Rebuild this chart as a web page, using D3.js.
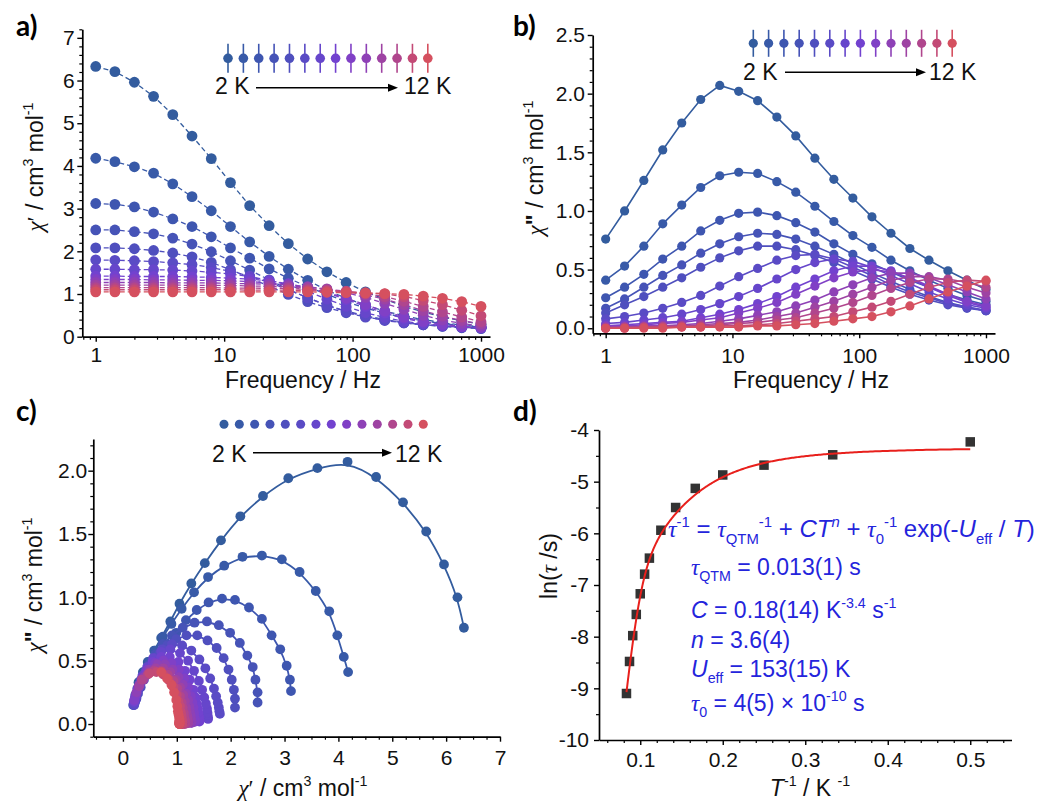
<!DOCTYPE html>
<html>
<head>
<meta charset="utf-8">
<script src="https://cdn.jsdelivr.net/npm/d3@7"></script>
<style>
  body { margin: 0; background: #fff; }
  svg { display: block; }
  text { white-space: pre; }
</style>
</head>
<body>
<svg id="fig" width="1049" height="805"></svg>
<script>
// ---- AC susceptibility data: 21 frequencies, 14 temperatures ----
const freq = [1, 1.41, 2, 2.82, 3.98, 5.62, 7.94, 11.2, 15.8, 22.4, 31.6, 44.7, 63.1, 89.1, 126, 178, 251, 355, 501, 708, 1000];
const temps = [2, 3, 4, 5, 6, 7, 8, 9, 9.5, 10, 10.5, 11, 11.5, 12];

// in-phase susceptibility chi' (cm3 mol-1), one row per temperature
const chiPrime = [
  [6.33, 6.21, 5.96, 5.63, 5.20, 4.70, 4.17, 3.61, 3.07, 2.60, 2.18, 1.82, 1.52, 1.27, 1.05, 0.88, 0.71, 0.58, 0.46, 0.37, 0.29],
  [4.18, 4.10, 3.98, 3.83, 3.58, 3.28, 2.95, 2.58, 2.22, 1.88, 1.58, 1.32, 1.09, 0.90, 0.74, 0.60, 0.49, 0.40, 0.33, 0.27, 0.23],
  [3.12, 3.10, 3.04, 2.92, 2.76, 2.58, 2.34, 2.08, 1.84, 1.59, 1.37, 1.17, 0.99, 0.82, 0.67, 0.55, 0.45, 0.37, 0.31, 0.26, 0.22],
  [2.50, 2.50, 2.46, 2.41, 2.31, 2.17, 1.99, 1.78, 1.56, 1.33, 1.11, 0.91, 0.74, 0.60, 0.49, 0.40, 0.33, 0.28, 0.24, 0.21, 0.19],
  [2.08, 2.08, 2.06, 2.02, 1.96, 1.87, 1.74, 1.57, 1.38, 1.18, 0.99, 0.82, 0.68, 0.56, 0.46, 0.39, 0.33, 0.28, 0.25, 0.22, 0.20],
  [1.80, 1.79, 1.78, 1.76, 1.73, 1.69, 1.62, 1.53, 1.42, 1.27, 1.10, 0.91, 0.73, 0.59, 0.47, 0.38, 0.32, 0.28, 0.25, 0.23, 0.21],
  [1.58, 1.58, 1.57, 1.57, 1.56, 1.54, 1.51, 1.47, 1.41, 1.32, 1.21, 1.06, 0.88, 0.71, 0.56, 0.45, 0.36, 0.30, 0.26, 0.23, 0.21],
  [1.42, 1.42, 1.41, 1.41, 1.41, 1.40, 1.39, 1.37, 1.35, 1.31, 1.24, 1.15, 1.03, 0.87, 0.71, 0.55, 0.43, 0.34, 0.27, 0.23, 0.21],
  [1.34, 1.34, 1.34, 1.33, 1.33, 1.32, 1.32, 1.31, 1.29, 1.26, 1.21, 1.14, 1.04, 0.90, 0.75, 0.60, 0.46, 0.36, 0.29, 0.24, 0.21],
  [1.27, 1.27, 1.27, 1.27, 1.26, 1.26, 1.26, 1.25, 1.24, 1.23, 1.21, 1.17, 1.11, 1.03, 0.92, 0.78, 0.64, 0.50, 0.39, 0.31, 0.25],
  [1.21, 1.21, 1.21, 1.21, 1.21, 1.20, 1.20, 1.20, 1.19, 1.18, 1.17, 1.15, 1.12, 1.06, 0.98, 0.88, 0.75, 0.61, 0.48, 0.38, 0.30],
  [1.15, 1.15, 1.15, 1.15, 1.15, 1.15, 1.15, 1.14, 1.14, 1.13, 1.13, 1.11, 1.09, 1.06, 1.01, 0.94, 0.83, 0.71, 0.58, 0.46, 0.35],
  [1.10, 1.10, 1.10, 1.10, 1.10, 1.10, 1.10, 1.10, 1.09, 1.09, 1.09, 1.08, 1.07, 1.06, 1.03, 1.00, 0.94, 0.85, 0.75, 0.62, 0.49],
  [1.05, 1.05, 1.05, 1.05, 1.05, 1.05, 1.05, 1.05, 1.05, 1.05, 1.05, 1.05, 1.04, 1.03, 1.02, 1.01, 0.99, 0.95, 0.90, 0.82, 0.71]
];

// out-of-phase susceptibility chi'' (cm3 mol-1), one row per temperature
const chiDouble = [
  [0.76, 1.00, 1.26, 1.52, 1.75, 1.95, 2.07, 2.02, 1.94, 1.80, 1.64, 1.45, 1.27, 1.11, 0.95, 0.81, 0.68, 0.58, 0.49, 0.41, 0.33],
  [0.41, 0.53, 0.70, 0.89, 1.05, 1.20, 1.30, 1.33, 1.32, 1.25, 1.16, 1.04, 0.91, 0.79, 0.69, 0.58, 0.49, 0.41, 0.34, 0.28, 0.23],
  [0.26, 0.35, 0.46, 0.59, 0.70, 0.83, 0.92, 0.98, 0.99, 0.96, 0.90, 0.82, 0.72, 0.63, 0.55, 0.48, 0.41, 0.35, 0.29, 0.24, 0.20],
  [0.17, 0.25, 0.35, 0.45, 0.54, 0.64, 0.72, 0.78, 0.81, 0.80, 0.76, 0.70, 0.63, 0.55, 0.47, 0.40, 0.33, 0.27, 0.22, 0.18, 0.15],
  [0.13, 0.20, 0.27, 0.35, 0.43, 0.52, 0.60, 0.66, 0.70, 0.70, 0.67, 0.62, 0.56, 0.49, 0.42, 0.35, 0.29, 0.24, 0.20, 0.17, 0.15],
  [0.08, 0.10, 0.13, 0.17, 0.22, 0.28, 0.36, 0.44, 0.51, 0.58, 0.62, 0.63, 0.59, 0.52, 0.45, 0.37, 0.31, 0.26, 0.21, 0.18, 0.15],
  [0.04, 0.05, 0.07, 0.09, 0.12, 0.16, 0.21, 0.27, 0.34, 0.42, 0.50, 0.56, 0.59, 0.57, 0.52, 0.45, 0.38, 0.31, 0.25, 0.20, 0.17],
  [0.02, 0.03, 0.04, 0.05, 0.06, 0.09, 0.12, 0.16, 0.21, 0.27, 0.35, 0.42, 0.49, 0.53, 0.53, 0.49, 0.42, 0.35, 0.28, 0.22, 0.18],
  [0.02, 0.02, 0.03, 0.04, 0.05, 0.07, 0.09, 0.13, 0.17, 0.22, 0.29, 0.36, 0.43, 0.48, 0.50, 0.48, 0.43, 0.36, 0.29, 0.23, 0.19],
  [0.01, 0.01, 0.02, 0.02, 0.03, 0.04, 0.06, 0.08, 0.11, 0.14, 0.19, 0.24, 0.31, 0.37, 0.43, 0.47, 0.47, 0.43, 0.37, 0.31, 0.25],
  [0.01, 0.01, 0.01, 0.02, 0.02, 0.03, 0.04, 0.05, 0.07, 0.10, 0.13, 0.18, 0.23, 0.29, 0.35, 0.41, 0.44, 0.44, 0.41, 0.35, 0.30],
  [0.00, 0.01, 0.01, 0.01, 0.02, 0.02, 0.03, 0.04, 0.05, 0.07, 0.09, 0.13, 0.17, 0.22, 0.28, 0.34, 0.39, 0.42, 0.42, 0.39, 0.35],
  [0.00, 0.00, 0.01, 0.01, 0.01, 0.01, 0.02, 0.02, 0.03, 0.04, 0.06, 0.08, 0.10, 0.14, 0.18, 0.23, 0.29, 0.35, 0.39, 0.41, 0.40],
  [0.00, 0.00, 0.00, 0.00, 0.01, 0.01, 0.01, 0.01, 0.02, 0.02, 0.03, 0.04, 0.06, 0.08, 0.10, 0.14, 0.19, 0.25, 0.31, 0.36, 0.41]
];

// Arrhenius plot data: 1/T (K-1) and ln(tau / s)
const invT  = [0.5, 0.3333, 0.25, 0.2, 0.1667, 0.1429, 0.125, 0.1111, 0.1053, 0.1, 0.0952, 0.0909, 0.0870, 0.0833];
const lnTau = [-4.23, -4.48, -4.68, -4.87, -5.13, -5.50, -5.94, -6.48, -6.79, -7.17, -7.57, -7.98, -8.48, -9.10];

// relaxation fit parameters
const tauQTM = 0.013;   // s
const ramanC = 0.18;    // K^-n s^-1
const ramanN = 3.6;
const Ueff   = 153;     // K
const tau0   = 4e-10;   // s
const fitTmin = 2, fitTmax = 12;

// tick values
const logMajor = [1, 10, 100, 1000];
const logMinor = [0.8, 0.9, 2, 3, 4, 5, 6, 7, 8, 9, 20, 30, 40, 50, 60, 70, 80, 90, 200, 300, 400, 500, 600, 700, 800, 900];
const aYMajor = [0, 1, 2, 3, 4, 5, 6, 7];
const bYMajor = [0, 0.5, 1.0, 1.5, 2.0, 2.5];
const cXMajor = [0, 1, 2, 3, 4, 5, 6, 7];
const cYMajor = [0, 0.5, 1.0, 1.5, 2.0];
const dXMajor = [0.1, 0.2, 0.3, 0.4, 0.5];
const dYMajor = [-4, -5, -6, -7, -8, -9, -10];

// temperature colour ramp, blue (2 K) through violet to red (12 K)
const colors = ["#335c9e", "#385aa8", "#3e56b0", "#4653b7", "#4f4fbe", "#5a4bc5", "#6646cb",
                "#7242cf", "#8040c6", "#8e41b6", "#9e43a3", "#b0468d", "#c34a76", "#d5505f"];

const SANS = "'Liberation Sans', Arial, Helvetica, sans-serif";
const SERIF = "'Liberation Serif', 'Times New Roman', serif";
const svg = d3.select("#fig");

// ---------- helpers ----------
function rangeStep(a, b, s) {
  const out = [];
  for (let v = a; v <= b + 1e-9; v += s) out.push(+v.toFixed(6));
  return out;
}

function rich(sel, x, y, parts, o) {
  const size = o.size;
  const t = sel.append("text")
    .attr("x", x).attr("y", y)
    .attr("font-family", SANS).attr("font-size", size)
    .attr("fill", o.fill || "#111")
    .attr("text-anchor", o.anchor || "start");
  if (o.rotate) t.attr("transform", `rotate(-90,${x},${y})`);
  let shift = 0;
  parts.forEach(p => {
    const ts = t.append("tspan").text(p.t);
    let target = 0, fs = size;
    if (p.sup) { target = -size * 0.42; fs = size * 0.62; }
    if (p.sub) { target = size * 0.28; fs = size * 0.62; }
    ts.attr("dy", (target - shift).toFixed(2)).attr("font-size", fs);
    shift = target;
    if (p.i) ts.attr("font-style", "italic");
    if (p.serif) ts.attr("font-family", SERIF);
    if (p.b) ts.attr("font-weight", "bold");
  });
  return t;
}

function axis(g, scale, orient, at, major, minor, fmt, pad) {
  const gen = (orient === "bottom" ? d3.axisBottom : d3.axisLeft)(scale)
    .tickValues(major).tickFormat(fmt).tickSize(5).tickSizeOuter(0).tickPadding(pad);
  const tr = orient === "bottom" ? `translate(0,${at})` : `translate(${at},0)`;
  const ax = g.append("g").attr("transform", tr).call(gen);
  ax.select(".domain").attr("stroke", "#000").attr("stroke-width", 1.7);
  ax.selectAll(".tick line").attr("stroke", "#000").attr("stroke-width", 1.4);
  ax.selectAll(".tick text").attr("font-family", SANS).attr("font-size", 21).attr("fill", "#111");
  const mgen = (orient === "bottom" ? d3.axisBottom : d3.axisLeft)(scale)
    .tickValues(minor).tickFormat("").tickSize(3).tickSizeOuter(0);
  const mg = g.append("g").attr("transform", tr).call(mgen);
  mg.select(".domain").remove();
  mg.selectAll(".tick line").attr("stroke", "#000").attr("stroke-width", 1.2);
}

function tempLegend(g, x0, dx, cy, r, stem, labY, lab2x, arrowX1, arrowX2, arrowY, lab12x) {
  temps.forEach((T, i) => {
    const cx = x0 + i * dx;
    if (stem) {
      g.append("line").attr("x1", cx).attr("x2", cx).attr("y1", cy - stem).attr("y2", cy + stem)
        .attr("stroke", colors[i]).attr("stroke-width", 1.6);
    }
    g.append("circle").attr("cx", cx).attr("cy", cy).attr("r", r).attr("fill", colors[i]);
  });
  g.append("text").attr("x", lab2x).attr("y", labY).attr("font-family", SANS).attr("font-size", 23)
    .attr("fill", "#111").text(temps[0] + " K");
  g.append("text").attr("x", lab12x).attr("y", labY).attr("font-family", SANS).attr("font-size", 23)
    .attr("fill", "#111").text(temps[temps.length - 1] + " K");
  g.append("line").attr("x1", arrowX1).attr("x2", arrowX2 - 8).attr("y1", arrowY).attr("y2", arrowY)
    .attr("stroke", "#000").attr("stroke-width", 1.6);
  g.append("path")
    .attr("d", `M${arrowX2},${arrowY} L${arrowX2 - 10},${arrowY - 4} L${arrowX2 - 10},${arrowY + 4} Z`)
    .attr("fill", "#000");
}

function panelLabel(x, y, s) {
  svg.append("text").attr("x", x).attr("y", y).attr("font-family", "Lato, 'Open Sans', sans-serif")
    .attr("font-weight", "bold").attr("font-size", 28).attr("fill", "#000").text(s);
}

const fmt1 = d3.format(".1f");
const fmtInt = d => String(d);

// ---------- panel a : chi' vs frequency ----------
{
  const g = svg.append("g");
  const x = d3.scaleLog().domain([0.786, 1175]).range([82.3, 490]);
  const y = d3.scaleLinear().domain([0, 7.2]).range([336.7, 29.3]);
  axis(g, x, "bottom", 336.7, logMajor, logMinor, fmtInt, 5.5);
  axis(g, y, "left", 82.3, aYMajor, rangeStep(0, 7.2, 0.2).filter(v => Math.abs(v - Math.round(v)) > 1e-6), fmtInt, 2.5);

  const line = d3.line().x((d, j) => x(freq[j])).y(d => y(d));
  temps.forEach((T, i) => {
    g.append("path").attr("d", line(chiPrime[i])).attr("fill", "none")
      .attr("stroke", colors[i]).attr("stroke-width", 1.3).attr("stroke-dasharray", "5,3");
    g.append("g").selectAll("circle").data(chiPrime[i]).join("circle")
      .attr("cx", (d, j) => x(freq[j])).attr("cy", d => y(d)).attr("r", 5.4).attr("fill", colors[i]);
  });

  tempLegend(g, 228, 15.37, 58.3, 4.8, 14.5, 94.3, 215, 256, 398, 87.7, 404);
  rich(g, 303, 388, [{ t: "Frequency / Hz" }], { size: 23, anchor: "middle" });
  rich(g, 43, 167, [{ t: "χ", serif: true, i: true }, { t: "′", serif: true }, { t: " / cm" }, { t: "3", sup: true },
    { t: " mol" }, { t: "-1", sup: true }], { size: 23, anchor: "middle", rotate: true });
  panelLabel(16, 36, "a)");
}

// ---------- panel b : chi'' vs frequency ----------
{
  const g = svg.append("g");
  const x = d3.scaleLog().domain([0.79, 1178]).range([592.7, 995]);
  const y = d3.scaleLinear().domain([-0.043, 2.5]).range([333.3, 35]);
  axis(g, x, "bottom", 333.3, logMajor, logMinor, fmtInt, 9.5);
  axis(g, y, "left", 592.7, bYMajor, rangeStep(0, 2.5, 0.1).filter(v => Math.abs(v * 2 - Math.round(v * 2)) > 1e-6), fmt1, 2.7);

  const line = d3.line().x((d, j) => x(freq[j])).y(d => y(d));
  temps.forEach((T, i) => {
    g.append("path").attr("d", line(chiDouble[i])).attr("fill", "none")
      .attr("stroke", colors[i]).attr("stroke-width", 1.6);
    g.append("g").selectAll("circle").data(chiDouble[i]).join("circle")
      .attr("cx", (d, j) => x(freq[j])).attr("cy", d => y(d)).attr("r", 4.6).attr("fill", colors[i]);
  });

  tempLegend(g, 753.3, 15.3, 43.3, 4.6, 13.5, 80, 743, 785, 926, 72.3, 929);
  rich(g, 811, 388, [{ t: "Frequency / Hz" }], { size: 23, anchor: "middle" });
  rich(g, 543, 168, [{ t: "χ", serif: true, i: true }, { t: "\"", b: true }, { t: " / cm" }, { t: "3", sup: true },
    { t: " mol" }, { t: "-1", sup: true }], { size: 23, anchor: "middle", rotate: true });
  panelLabel(513, 36, "b)");
}

// ---------- panel c : Cole-Cole plot ----------
{
  const g = svg.append("g");
  const x = d3.scaleLinear().domain([-0.55, 7]).range([93.3, 500]);
  const y = d3.scaleLinear().domain([-0.1, 2.25]).range([736.7, 439]);
  axis(g, x, "bottom", 736.7, cXMajor, rangeStep(-0.5, 7, 0.25).filter(v => Math.abs(v - Math.round(v)) > 1e-6), fmtInt, 8.5);
  axis(g, y, "left", 93.3, cYMajor, rangeStep(-0.1, 2.2, 0.1).filter(v => Math.abs(v * 2 - Math.round(v * 2)) > 1e-6), fmt1, 1);

  const curve = d3.line().x(d => x(d[0])).y(d => y(d[1])).curve(d3.curveBasis);
  temps.forEach((T, i) => {
    const pts = chiPrime[i].map((v, j) => [v, chiDouble[i][j]]);
    g.append("path").attr("d", curve(pts)).attr("fill", "none")
      .attr("stroke", colors[i]).attr("stroke-width", 1.8);
    g.append("g").selectAll("circle").data(pts).join("circle")
      .attr("cx", d => x(d[0])).attr("cy", d => y(d[1])).attr("r", 4.9).attr("fill", colors[i]);
  });

  tempLegend(g, 224, 15.33, 424.3, 4.5, 0, 461.7, 212, 253, 392, 452.7, 395);
  rich(g, 303, 796, [{ t: "χ", serif: true, i: true }, { t: "′", serif: true }, { t: " / cm" }, { t: "3", sup: true },
    { t: " mol" }, { t: "-1", sup: true }], { size: 23, anchor: "middle" });
  rich(g, 42, 585, [{ t: "χ", serif: true, i: true }, { t: "\"", b: true }, { t: " / cm" }, { t: "3", sup: true },
    { t: " mol" }, { t: "-1", sup: true }], { size: 23, anchor: "middle", rotate: true });
  panelLabel(16, 421, "c)");
}

// ---------- panel d : ln(tau) vs 1/T ----------
{
  const g = svg.append("g");
  const x = d3.scaleLinear().domain([0.05, 0.55]).range([599, 1011.5]);
  const y = d3.scaleLinear().domain([-10, -4]).range([740, 430]);
  axis(g, x, "bottom", 740, dXMajor, rangeStep(0.06, 0.54, 0.02).filter(v => Math.abs(v * 10 - Math.round(v * 10)) > 1e-6), fmt1, 7.5);
  axis(g, y, "left", 599, dYMajor, [-4.5, -5.5, -6.5, -7.5, -8.5, -9.5], fmtInt, 5);

  // fitted curve from tau^-1 = tauQTM^-1 + C T^n + tau0^-1 exp(-Ueff/T)
  const Ts = d3.range(fitTmin, fitTmax + 1e-9, 0.02);
  const fitPts = Ts.map(T => [1 / T, -Math.log(1 / tauQTM + ramanC * Math.pow(T, ramanN) + Math.exp(-Ueff / T) / tau0)]);

  const s = 9.5;
  g.append("g").selectAll("rect").data(invT).join("rect")
    .attr("x", (d) => x(d) - s / 2).attr("y", (d, i) => y(lnTau[i]) - s / 2)
    .attr("width", s).attr("height", s).attr("fill", "#333");
  g.append("path").attr("d", d3.line().x(d => x(d[0])).y(d => y(d[1]))(fitPts))
    .attr("fill", "none").attr("stroke", "#e8201c").attr("stroke-width", 2);

  rich(g, 810, 796, [{ t: "T", i: true }, { t: "-1", sup: true }, { t: " / K " }, { t: "-1", sup: true }],
    { size: 23, anchor: "middle" });
  rich(g, 557, 566, [{ t: "ln(" }, { t: "τ", serif: true, i: true }, { t: " /s)" }], { size: 23, anchor: "middle", rotate: true });

  const blue = "#2424dc";
  const ann = { size: 24, fill: blue };
  rich(g, 668, 537, [{ t: "τ", serif: true, i: true }, { t: "-1", sup: true }, { t: " = " },
    { t: "τ", serif: true, i: true }, { t: "QTM", sub: true }, { t: "-1", sup: true }, { t: " + " },
    { t: "CT", i: true }, { t: "n", sup: true, i: true }, { t: " + " },
    { t: "τ", serif: true, i: true }, { t: "0", sub: true }, { t: "-1", sup: true }, { t: " exp(-" },
    { t: "U", i: true }, { t: "eff", sub: true }, { t: " / " }, { t: "T", i: true }, { t: ")" }], ann);
  const annB = { size: 23, fill: blue };
  rich(g, 691, 575, [{ t: "τ", serif: true, i: true }, { t: "QTM", sub: true }, { t: " = 0.013(1) s" }], annB);
  rich(g, 691, 618, [{ t: "C", i: true }, { t: " = 0.18(14) K" }, { t: "-3.4", sup: true }, { t: " s" }, { t: "-1", sup: true }], annB);
  rich(g, 691, 648, [{ t: "n", i: true }, { t: " = 3.6(4)" }], annB);
  rich(g, 691, 677, [{ t: "U", i: true }, { t: "eff", sub: true }, { t: " = 153(15) K" }], annB);
  rich(g, 691, 711, [{ t: "τ", serif: true, i: true }, { t: "0", sub: true }, { t: " = 4(5) × 10" }, { t: "-10", sup: true }, { t: " s" }], annB);
  panelLabel(513, 421, "d)");
}
</script>
</body>
</html>
